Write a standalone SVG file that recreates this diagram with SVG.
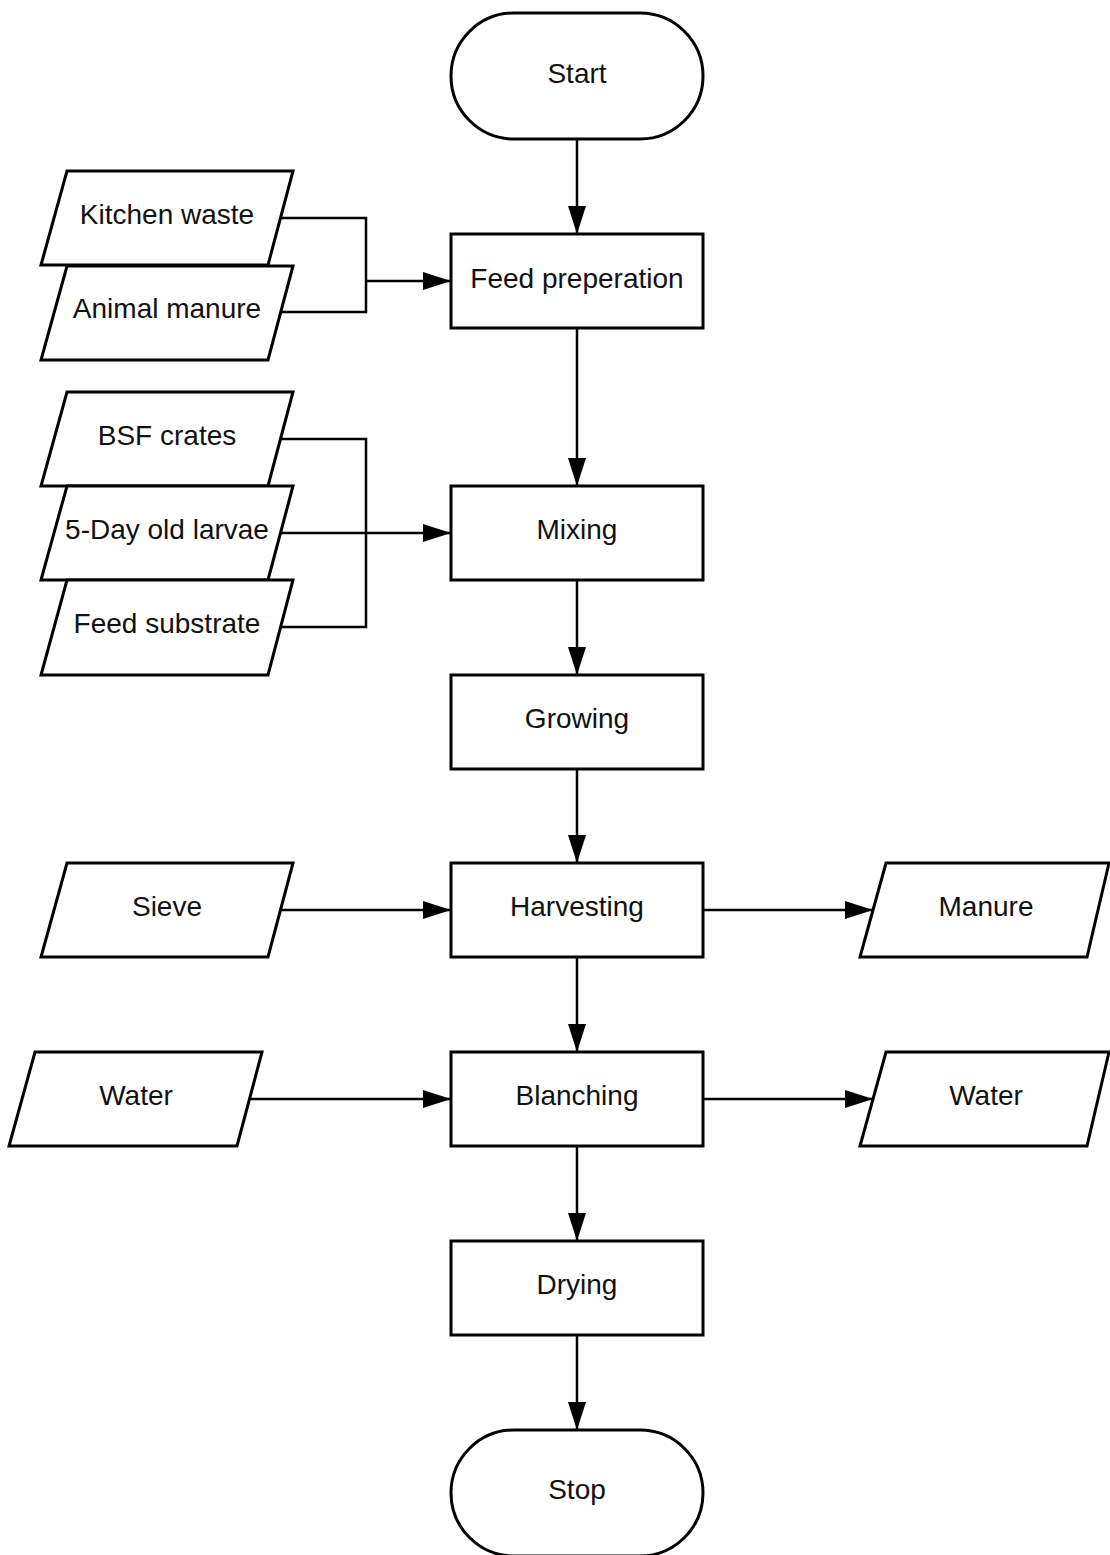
<svg xmlns="http://www.w3.org/2000/svg" width="1110" height="1555" viewBox="0 0 1110 1555">
<style>
.s{fill:#fff;stroke:#000;stroke-width:3}
.t{font-family:"Liberation Sans",Arial,sans-serif;font-size:28px;fill:#111;text-anchor:middle}
.c{fill:none;stroke:#000;stroke-width:2.5}
</style>
<defs>
<marker id="a" markerUnits="userSpaceOnUse" markerWidth="28" markerHeight="18" refX="28" refY="9" orient="auto">
<path d="M0,0 L28,9 L0,18 z" fill="#000"/>
</marker>
</defs>
<rect width="1110" height="1555" fill="#fff"/>
<g id="connectors">
<path class="c" d="M577,139 V234" marker-end="url(#a)"/>
<path class="c" d="M577,328 V486" marker-end="url(#a)"/>
<path class="c" d="M577,580 V675" marker-end="url(#a)"/>
<path class="c" d="M577,769 V863" marker-end="url(#a)"/>
<path class="c" d="M577,957 V1052" marker-end="url(#a)"/>
<path class="c" d="M577,1146 V1241" marker-end="url(#a)"/>
<path class="c" d="M577,1335 V1430" marker-end="url(#a)"/>
<path class="c" d="M281,218 H366 V312 H281"/>
<path class="c" d="M366,281 H451" marker-end="url(#a)"/>
<path class="c" d="M281,439 H366 V627 H281"/>
<path class="c" d="M281,533 H451" marker-end="url(#a)"/>
<path class="c" d="M281,910 H451" marker-end="url(#a)"/>
<path class="c" d="M703,910 H873" marker-end="url(#a)"/>
<path class="c" d="M250,1099 H451" marker-end="url(#a)"/>
<path class="c" d="M703,1099 H873" marker-end="url(#a)"/>
</g>
<g id="start"><rect class="s" x="451" y="13" width="252" height="126" rx="63"/><text class="t" x="577" y="83">Start</text></g>
<g id="feed"><rect class="s" x="451" y="234" width="252" height="94"/><text class="t" x="577" y="288">Feed preperation</text></g>
<g id="kitchen"><polygon class="s" points="67,171 293,171 268,265 41,265"/><text class="t" x="167" y="224">Kitchen waste</text></g>
<g id="animal"><polygon class="s" points="67,266 293,266 268,360 41,360"/><text class="t" x="167" y="318">Animal manure</text></g>
<g id="bsf"><polygon class="s" points="67,392 293,392 268,486 41,486"/><text class="t" x="167" y="445">BSF crates</text></g>
<g id="larvae"><polygon class="s" points="67,486 293,486 268,580 41,580"/><text class="t" x="167" y="539">5-Day old larvae</text></g>
<g id="substrate"><polygon class="s" points="67,580 293,580 268,675 41,675"/><text class="t" x="167" y="633">Feed substrate</text></g>
<g id="mixing"><rect class="s" x="451" y="486" width="252" height="94"/><text class="t" x="577" y="539">Mixing</text></g>
<g id="growing"><rect class="s" x="451" y="675" width="252" height="94"/><text class="t" x="577" y="728">Growing</text></g>
<g id="sieve"><polygon class="s" points="67,863 293,863 268,957 41,957"/><text class="t" x="167" y="916">Sieve</text></g>
<g id="harvesting"><rect class="s" x="451" y="863" width="252" height="94"/><text class="t" x="577" y="916">Harvesting</text></g>
<g id="manure"><polygon class="s" points="886,863 1109,863 1087,957 860,957"/><text class="t" x="986" y="916">Manure</text></g>
<g id="water-in"><polygon class="s" points="35,1052 262,1052 237,1146 9,1146"/><text class="t" x="136" y="1105">Water</text></g>
<g id="blanching"><rect class="s" x="451" y="1052" width="252" height="94"/><text class="t" x="577" y="1105">Blanching</text></g>
<g id="water-out"><polygon class="s" points="886,1052 1109,1052 1087,1146 860,1146"/><text class="t" x="986" y="1105">Water</text></g>
<g id="drying"><rect class="s" x="451" y="1241" width="252" height="94"/><text class="t" x="577" y="1294">Drying</text></g>
<g id="stop"><rect class="s" x="451" y="1430" width="252" height="126" rx="63"/><text class="t" x="577" y="1499">Stop</text></g>
</svg>
